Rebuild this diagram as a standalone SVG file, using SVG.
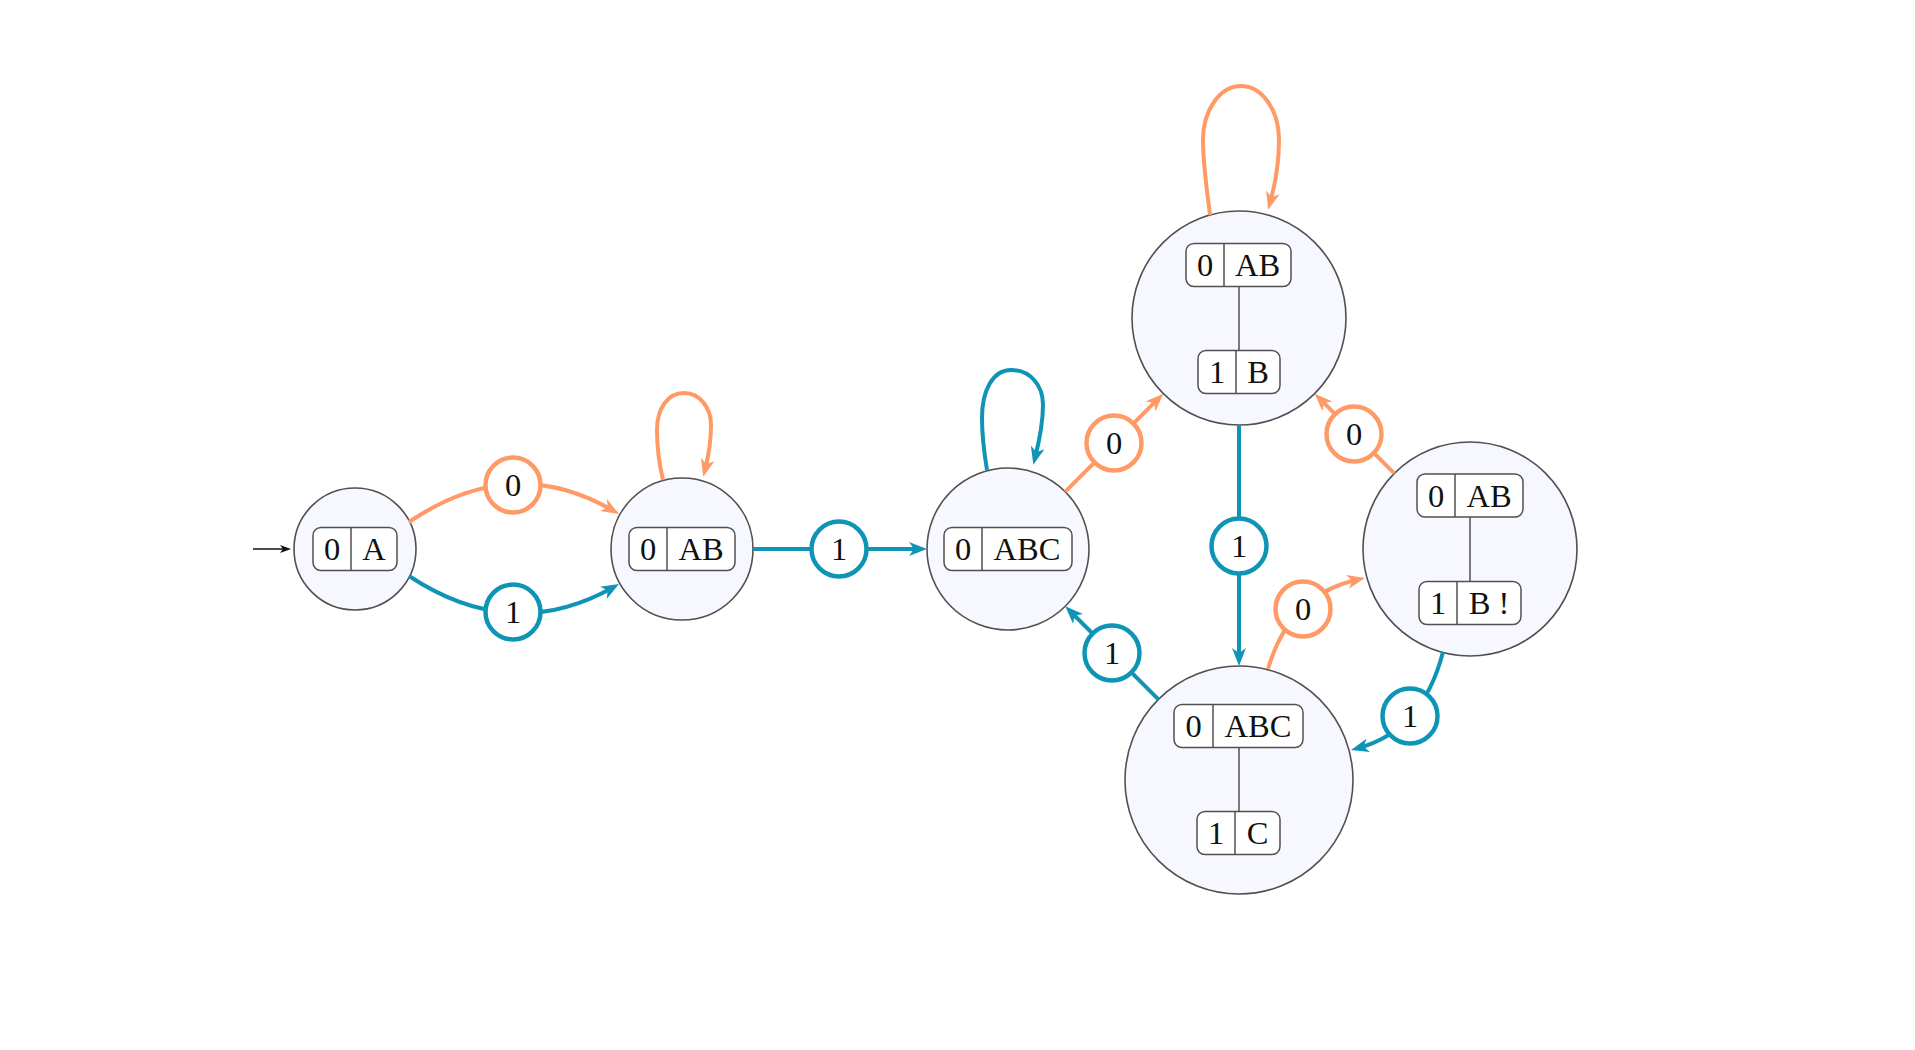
<svg xmlns="http://www.w3.org/2000/svg" width="1915" height="1050" viewBox="0 0 1915 1050">
<style>
.bg{fill:#ffffff}
.node{fill:#f6f7ff;stroke:#505050;stroke-width:1.6}
.box{fill:#ffffff;stroke:#505050;stroke-width:1.5}
.div{stroke:#505050;stroke-width:1.5;fill:none}
.t{font-family:"Liberation Serif","DejaVu Serif",serif;font-size:32.5px;fill:#111;text-anchor:middle}
.eo{fill:none;stroke:#ff9966;stroke-width:4}
.eb{fill:none;stroke:#0e95b5;stroke-width:4}
.lo{fill:#ffffff;stroke:#ff9966;stroke-width:4.5}
.lb{fill:#ffffff;stroke:#0e95b5;stroke-width:4.5}
.init{fill:none;stroke:#111;stroke-width:1.4}
</style>
<defs>
<marker id="ao" markerUnits="userSpaceOnUse" markerWidth="18" markerHeight="14" viewBox="0 0 18 14" refX="11" refY="7" orient="auto">
<path d="M0,0 L18,7 L0,14 L5,7 z" fill="#ff9966"/>
</marker>
<marker id="ab" markerUnits="userSpaceOnUse" markerWidth="18" markerHeight="14" viewBox="0 0 18 14" refX="11" refY="7" orient="auto">
<path d="M0,0 L18,7 L0,14 L5,7 z" fill="#0e95b5"/>
</marker>
<marker id="ak" markerUnits="userSpaceOnUse" markerWidth="12" markerHeight="10" viewBox="0 0 12 10" refX="7" refY="5" orient="auto">
<path d="M0,1 L11,5 L0,9 L3,5 z" fill="#111"/>
</marker>
</defs>
<rect class="bg" x="0" y="0" width="1915" height="1050"/>

<g id="node-A">
<circle class="node" cx="355" cy="549" r="61"/>
<rect class="box" x="313" y="527.5" width="84" height="43" rx="8"/>
<line class="div" x1="351" y1="527.5" x2="351" y2="570.5"/>
<text class="t" x="332" y="560">0</text>
<text class="t" x="374" y="560">A</text>
</g>

<g id="node-AB">
<circle class="node" cx="682" cy="549" r="71"/>
<rect class="box" x="629" y="527.5" width="106" height="43" rx="8"/>
<line class="div" x1="667" y1="527.5" x2="667" y2="570.5"/>
<text class="t" x="648" y="560">0</text>
<text class="t" x="701" y="560">AB</text>
</g>

<g id="node-ABC">
<circle class="node" cx="1008" cy="549" r="81"/>
<rect class="box" x="944" y="527.5" width="128" height="43" rx="8"/>
<line class="div" x1="982" y1="527.5" x2="982" y2="570.5"/>
<text class="t" x="963" y="560">0</text>
<text class="t" x="1027" y="560">ABC</text>
</g>

<g id="node-AB-B">
<circle class="node" cx="1239" cy="318" r="107"/>
<line class="div" x1="1239" y1="286.5" x2="1239" y2="350.5"/>
<rect class="box" x="1186" y="243.5" width="105" height="43" rx="8"/>
<line class="div" x1="1224" y1="243.5" x2="1224" y2="286.5"/>
<text class="t" x="1205" y="276">0</text>
<text class="t" x="1257.5" y="276">AB</text>
<rect class="box" x="1198" y="350.5" width="82" height="43" rx="8"/>
<line class="div" x1="1236" y1="350.5" x2="1236" y2="393.5"/>
<text class="t" x="1217" y="383">1</text>
<text class="t" x="1258" y="383">B</text>
</g>

<g id="node-ABC-C">
<circle class="node" cx="1239" cy="780" r="114"/>
<line class="div" x1="1239" y1="747.5" x2="1239" y2="811.5"/>
<rect class="box" x="1174" y="704.5" width="129" height="43" rx="8"/>
<line class="div" x1="1213" y1="704.5" x2="1213" y2="747.5"/>
<text class="t" x="1193.5" y="737">0</text>
<text class="t" x="1258" y="737">ABC</text>
<rect class="box" x="1197" y="811.5" width="83" height="43" rx="8"/>
<line class="div" x1="1235" y1="811.5" x2="1235" y2="854.5"/>
<text class="t" x="1216" y="844">1</text>
<text class="t" x="1257.5" y="844">C</text>
</g>

<g id="node-AB-B-bang">
<circle class="node" cx="1470" cy="549" r="107"/>
<line class="div" x1="1470" y1="517" x2="1470" y2="581.5"/>
<rect class="box" x="1417" y="474" width="106" height="43" rx="8"/>
<line class="div" x1="1455" y1="474" x2="1455" y2="517"/>
<text class="t" x="1436" y="506.5">0</text>
<text class="t" x="1489" y="506.5">AB</text>
<rect class="box" x="1419" y="581.5" width="102" height="43" rx="8"/>
<line class="div" x1="1457" y1="581.5" x2="1457" y2="624.5"/>
<text class="t" x="1438" y="614">1</text>
<text class="t" x="1489" y="614">B !</text>
</g>

<g id="connectors">
<line id="e-init" class="init" x1="253" y1="549" x2="287" y2="549" marker-end="url(#ak)"/>

<g id="e-A-AB-0">
<path class="eo" d="M409,522 Q512,452 612.9,510.5" marker-end="url(#ao)"/>
<circle class="lo" cx="513" cy="485" r="27.5"/>
<text class="t" x="513" y="496">0</text>
</g>

<g id="e-A-AB-1">
<path class="eb" d="M409,576 Q512,644 612.9,587.4" marker-end="url(#ab)"/>
<circle class="lb" cx="513" cy="612" r="27.5"/>
<text class="t" x="513" y="623">1</text>
</g>

<g id="e-AB-loop-0">
<path class="eo" d="M663,480 C659,463 657,447 657,430 C657,408 668,393 684,393 C700,393 711,408 711,425 C711,443 708,458 705,470" marker-end="url(#ao)"/>
</g>

<g id="e-AB-ABC-1">
<path class="eb" d="M753,549 L920,549" marker-end="url(#ab)"/>
<circle class="lb" cx="839" cy="549" r="27.5"/>
<text class="t" x="839" y="560">1</text>
</g>

<g id="e-ABC-loop-1">
<path class="eb" d="M987,470 C984,452 982,435 982,418 C982,390 993,370 1011,370 C1030,370 1043,385 1043,405 C1043,425 1039,442 1035,458" marker-end="url(#ab)"/>
</g>

<g id="e-ABC-T-0">
<path class="eo" d="M1065.3,491.7 L1158.35,398.65" marker-end="url(#ao)"/>
<circle class="lo" cx="1114" cy="443" r="27.5"/>
<text class="t" x="1114" y="454">0</text>
</g>

<g id="e-T-loop-0">
<path class="eo" d="M1210,215 C1207,190 1203,165 1203,140 C1203,110 1220,86 1241,86 C1262,86 1279,110 1279,140 C1279,165 1275,185 1270,203" marker-end="url(#ao)"/>
</g>

<g id="e-T-Bt-1">
<path class="eb" d="M1239,425 L1239,659" marker-end="url(#ab)"/>
<circle class="lb" cx="1239" cy="546" r="27.5"/>
<text class="t" x="1239" y="557">1</text>
</g>

<g id="e-Bt-ABC-1">
<path class="eb" d="M1158.4,699.4 L1070.25,611.25" marker-end="url(#ab)"/>
<circle class="lb" cx="1112" cy="653" r="27.5"/>
<text class="t" x="1112" y="664">1</text>
</g>

<g id="e-R-T-0">
<path class="eo" d="M1394.3,473.3 L1319.65,398.65" marker-end="url(#ao)"/>
<circle class="lo" cx="1354" cy="434" r="27.5"/>
<text class="t" x="1354" y="445">0</text>
</g>

<g id="e-Bt-R-0">
<path class="eo" d="M1268,669 Q1289.5,594.5 1358.2,579.5" marker-end="url(#ao)"/>
<circle class="lo" cx="1303" cy="609" r="27.5"/>
<text class="t" x="1303" y="620">0</text>
</g>

<g id="e-R-Bt-1">
<path class="eb" d="M1443,652 Q1422.5,731 1357.8,748.2" marker-end="url(#ab)"/>
<circle class="lb" cx="1410" cy="716" r="27.5"/>
<text class="t" x="1410" y="727">1</text>
</g>
</g>
</svg>
